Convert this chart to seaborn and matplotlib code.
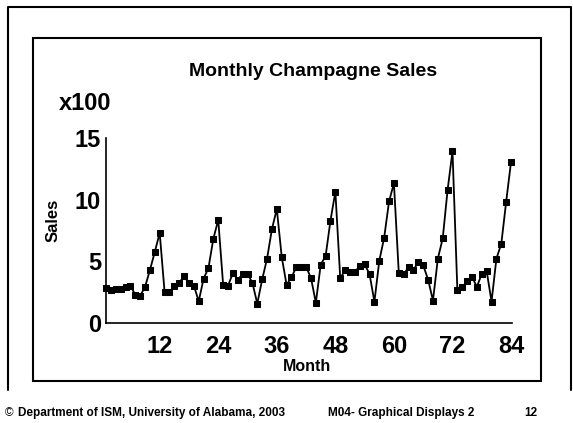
import numpy as np
import pandas as pd
import matplotlib.pyplot as plt
import seaborn as sns
from matplotlib.patches import Rectangle
from matplotlib.lines import Line2D

# vendite mensili (x100)
sales = [2.82, 2.67, 2.76, 2.72, 2.95, 3.04, 2.28, 2.21, 2.92, 4.30, 5.76, 7.31,
         2.54, 2.48, 3.03, 3.27, 3.78, 3.23, 3.03, 1.76, 3.60, 4.47, 6.84, 8.36,
         3.11, 3.01, 4.05, 3.52, 3.94, 3.99, 3.26, 1.57, 3.53, 5.21, 7.61, 9.25,
         5.38, 3.09, 3.72, 4.51, 4.52, 4.54, 3.66, 1.64, 4.74, 5.43, 8.31, 10.65,
         3.63, 4.29, 4.15, 4.12, 4.65, 4.75, 3.97, 1.72, 5.05, 6.92, 9.86, 11.33,
         4.02, 3.96, 4.51, 4.28, 4.97, 4.68, 3.52, 1.82, 5.22, 6.87, 10.80, 13.92,
         2.64, 2.90, 3.37, 3.74, 2.93, 3.99, 4.22, 1.74, 5.22, 6.42, 9.84, 13.08]
months = list(range(1, len(sales) + 1))
x_ticks = [12, 24, 36, 48, 60, 72, 84]
y_ticks = [0, 5, 10, 15]

df = pd.DataFrame({'Month': months, 'Sales': sales})

sns.set_style('white')
plt.rcParams['font.family'] = ['Liberation Sans', 'DejaVu Sans']
plt.rcParams['font.weight'] = 'bold'
plt.rcParams['text.color'] = 'black'
plt.rcParams['xtick.color'] = 'black'
plt.rcParams['ytick.color'] = 'black'
plt.rcParams['axes.labelcolor'] = 'black'

fig = plt.figure(figsize=(5.73, 4.23), dpi=100)
ax = fig.add_axes([0.185, 0.2364, 0.7086, 0.4374])

sns.lineplot(data=df, x='Month', y='Sales', ax=ax, color='black', linewidth=1.3,
             marker='s', markersize=4.3, markeredgecolor='black', clip_on=False)

ax.set_xlim(1, 84.2)
ax.set_ylim(0, 15)
ax.set_xticks(x_ticks)
ax.set_yticks(y_ticks)
ax.set_xticklabels([str(t) for t in x_ticks], fontsize=17, fontweight='bold')
ax.set_yticklabels([str(t) for t in y_ticks], fontsize=17, fontweight='bold')
ax.tick_params(axis='both', direction='inout', length=5, width=1, colors='black')
ax.tick_params(axis='y', pad=1)
ax.tick_params(axis='x', pad=6)
ticks = ax.xaxis.get_major_ticks()
ticks[0].tick1line.set_visible(False)
ticks[-1].tick1line.set_visible(False)
ax.set_xlabel('')
ax.set_ylabel('')
for s in ['top', 'right']:
    ax.spines[s].set_visible(False)
for s in ['left', 'bottom']:
    ax.spines[s].set_color('black')
    ax.spines[s].set_linewidth(1.2)

fig.text(313 / 573, 1 - 71 / 423, 'Monthly Champagne Sales', ha='center', va='center',
         fontsize=14, fontweight='bold')
fig.text(85 / 573, 1 - 103 / 423, 'x100', ha='center', va='center', fontsize=17, fontweight='bold')
fig.text(53 / 573, 1 - 220 / 423, 'Sales', ha='center', va='center', rotation=90,
         fontsize=12, fontweight='bold')
fig.text(307 / 573, 1 - 366 / 423, 'Month', ha='center', va='center', fontsize=11.5, fontweight='bold')

# piè di pagina
fig.text(5 / 573, 1 - 413 / 423, '©', ha='left', va='center', fontsize=8.5, fontweight='normal')
fig.text(18 / 573, 1 - 413 / 423, 'Department of ISM, University of Alabama, 2003', ha='left',
         va='center', fontsize=8.5, fontweight='bold')
fig.text(328 / 573, 1 - 413 / 423, 'M04- Graphical Displays 2', ha='left', va='center',
         fontsize=8.5, fontweight='bold')
fig.text(537 / 573, 1 - 413 / 423, '12', ha='right', va='center', fontsize=8.5, fontweight='bold')

# cornici
fig.add_artist(Rectangle((33 / 573, 1 - 381 / 423), 508 / 573, 343 / 423, transform=fig.transFigure,
                         fill=False, edgecolor='black', linewidth=1.5))
fig.add_artist(Line2D([8 / 573, 8 / 573, 571 / 573, 571 / 573],
                      [1 - 390 / 423, 1 - 7 / 423, 1 - 7 / 423, 1 - 390 / 423],
                      transform=fig.transFigure, color='black', linewidth=1.5))

fig.savefig('out.png', dpi=100)
